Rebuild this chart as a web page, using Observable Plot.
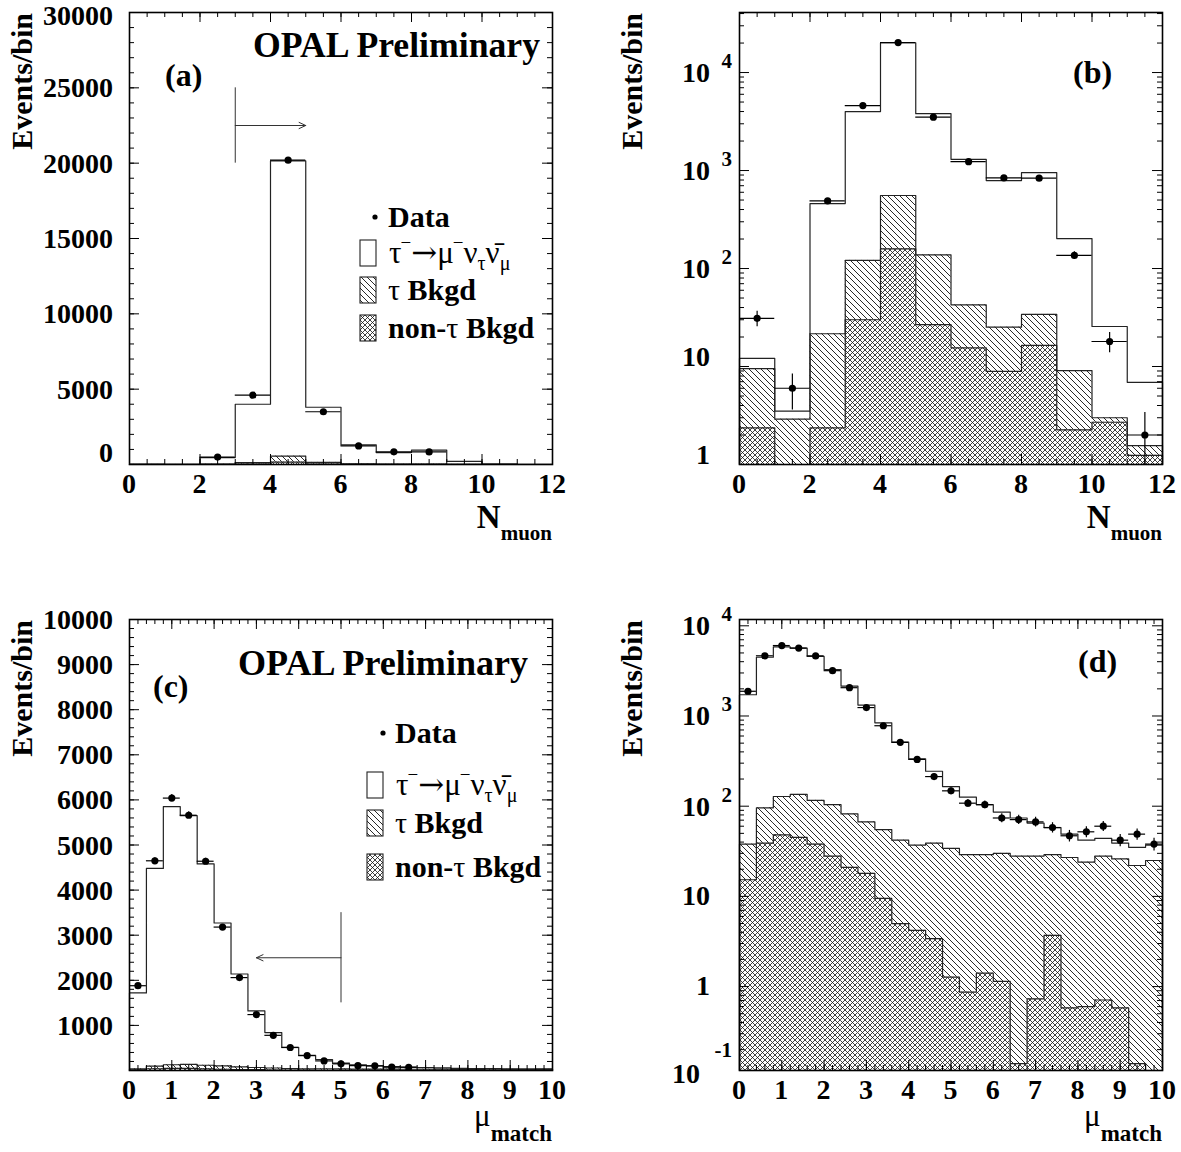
<!DOCTYPE html>
<html><head><meta charset="utf-8">
<script src="https://cdn.jsdelivr.net/npm/d3@7"></script>
<script src="https://cdn.jsdelivr.net/npm/@observablehq/plot@0.6"></script>
<style>
body{margin:0;background:#fff;}
#chart{position:relative;width:1181px;height:1152px;background:#fff;overflow:hidden;}
#chart svg{position:absolute;overflow:visible;}
</style></head><body><div id="chart"></div>
<script>
// ---------------- DATA ----------------
// N_muon distribution (bins of width 1)
const nmuonEdges   = [0,1,2,3,4,5,6,7,8,9,10,11,12];
const nmuonData    = [31, 6, 490, 4600, 20200, 3500, 1230, 840, 835, 136, 18, 2];
const nmuonDataErr = [5.6, 2.4, 22, 68, 142, 59, 35, 29, 29, 12, 4.2, 1.4];
const nmuonMC      = [12.1, 3.5, 460, 4000, 20150, 3800, 1300, 790, 950, 202, 25.6, 6.9];   // signal + all bkgd (stacked top)
const nmuonBkgd    = [9.5, 2.9, 21.6, 121, 556, 138, 42.6, 25.2, 34, 9.1, 3.0, 1.56];      // tau bkgd + non-tau bkgd (stacked top)
const nmuonNonTau  = [2.37, 0, 2.37, 30, 159, 26.8, 15.5, 8.9, 16.4, 2.26, 2.7, 1.24];     // non-tau bkgd

// mu_match distribution (bins of width 0.4)
const mumatchEdges   = [0,0.4,0.8,1.2,1.6,2,2.4,2.8,3.2,3.6,4,4.4,4.8,5.2,5.6,6,6.4,6.8,7.2,7.6,8,8.4,8.8,9.2,9.6,10];
const mumatchData    = [1880, 4650, 6040, 5660, 4640, 3180, 2060, 1240, 780, 510, 330, 213, 148, 108, 104, 74, 71, 67, 58, 47, 52, 60, 42, 49, 38];
const mumatchDataErr = [43, 68, 78, 75, 68, 56, 45, 35, 28, 22.6, 18, 14.6, 12.2, 10.4, 10.2, 8.6, 8.4, 8.2, 7.6, 6.9, 7.2, 7.7, 6.5, 7, 6.2];
const mumatchMC      = [1720, 4480, 5850, 5650, 4580, 3270, 2140, 1320, 840, 515, 335, 244, 165, 126, 104, 86, 74, 65, 58, 49, 42, 44, 39, 35, 37];
const mumatchBkgd    = [38, 96, 128, 135, 116, 104, 82, 67, 55, 42, 37, 39, 34, 29, 29, 30, 28, 28, 29, 27, 24, 28, 26, 22, 25];
const mumatchNonTau  = [15.3, 39, 48, 45, 38, 28, 21, 18, 9.5, 5.0, 4.2, 3.4, 1.27, 0.87, 1.41, 1.14, 0.14, 0.73, 3.7, 0.58, 0.60, 0.71, 0.58, 0.14, 0];

// selection cuts (arrows)
const cutNmuon   = {x: 3, yLow: 20000, yHigh: 25000, yArrow: 22500, to: 5};
const cutMumatch = {x: 5, yLow: 1500,  yHigh: 3500,  yArrow: 2500,  to: 3};

// tick label values
const linTicksA = [0,5000,10000,15000,20000,25000,30000];
const linTicksC = [1000,2000,3000,4000,5000,6000,7000,8000,9000,10000];
const xTicksN   = [0,2,4,6,8,10,12];
const xTicksM   = [0,1,2,3,4,5,6,7,8,9,10];
const logDecades = [1,10,100,1000,10000];

// ---------------- DRAWING ----------------
const FONT = '"Liberation Serif","Times New Roman",Times,serif';
const chart = document.getElementById("chart");

function makeBins(edges, data, err, mc, bkgd, nontau) {
  return data.map((d, i) => ({x1: edges[i], x2: edges[i+1], xc: (edges[i]+edges[i+1])/2,
    data: d, err: err[i], mc: mc[i], bkgd: bkgd[i], nontau: nontau[i]}));
}
function stepPoints(edges, vals, base) {
  const pts = [{x: edges[0], y: base}];
  vals.forEach((v, i) => {
    const y = Math.max(v, base);
    pts.push({x: edges[i], y}); pts.push({x: edges[i+1], y});
  });
  pts.push({x: edges[edges.length-1], y: base});
  return pts;
}
function logMinors(domain) {
  const out = [];
  for (let e = -1; e <= 4; e++) for (let k = 2; k <= 9; k++) {
    const v = k * Math.pow(10, e);
    if (v >= domain[0] && v <= domain[1]) out.push(v);
  }
  return out;
}
function addText(g, x, y, parts, attrs = {}) {
  const t = g.append("text").attr("x", x).attr("y", y).attr("font-family", FONT)
    .attr("fill", "black").attr("text-anchor", "start");
  for (const [k, v] of Object.entries(attrs)) t.attr(k, v);
  if (typeof parts === "string") t.text(parts);
  else parts.forEach(p => {
    const s = t.append("tspan").text(p.t);
    if (p.dy) s.attr("dy", p.dy);
    if (p.dx) s.attr("dx", p.dx);
    if (p.size) s.attr("font-size", p.size);
    if (p.font) s.attr("font-family", p.font);
    s.attr("font-weight", p.w || "normal");
  });
  return t;
}

function buildPanel(p) {
  const fw = p.width - p.m.l - p.m.r, fh = p.height - p.m.t - p.m.b;
  const base = p.yDomain[0];
  const cl = v => Math.max(v, base);
  const hatchId = "hatch-" + p.key, crossId = "cross-" + p.key;
  const bins = p.bins;
  const ymax = p.yDomain[1];
  const pts = p.log ? bins : bins.filter(d => d.data / ymax > 0.007);
  const tickMarks = (vals, len, dim) => dim === "x" ? [
      Plot.tickX(vals, {x: d => d, insetTop: fh - len, stroke: "black", strokeWidth: 1}),
      Plot.tickX(vals, {x: d => d, insetBottom: fh - len, stroke: "black", strokeWidth: 1})
    ] : [
      Plot.tickY(vals, {y: d => d, insetRight: fw - len, stroke: "black", strokeWidth: 1}),
      Plot.tickY(vals, {y: d => d, insetLeft: fw - len, stroke: "black", strokeWidth: 1})
    ];
  const marks = [
    Plot.rect(bins, {x1: "x1", x2: "x2", y1: d => cl(d.nontau), y2: d => cl(d.bkgd), fill: `url(#${hatchId})`}),
    Plot.rect(bins, {x1: "x1", x2: "x2", y1: () => base, y2: d => cl(d.nontau), fill: `url(#${crossId})`}),
    Plot.line(stepPoints(p.edges, bins.map(d => d.nontau), base), {x: "x", y: "y", stroke: "#222", strokeWidth: 1.2}),
    Plot.line(stepPoints(p.edges, bins.map(d => d.bkgd), base), {x: "x", y: "y", stroke: "#222", strokeWidth: 1.2}),
    Plot.line(stepPoints(p.edges, bins.map(d => d.mc), base), {x: "x", y: "y", stroke: "#222", strokeWidth: 1.2}),
    Plot.ruleY(pts, {y: "data", x1: "x1", x2: "x2", stroke: "black", strokeWidth: 1.2}),
    Plot.ruleX(pts, {x: "xc", y1: d => cl(d.data - d.err), y2: d => d.data + d.err, stroke: "black", strokeWidth: 1.2}),
    Plot.dot(pts, {x: "xc", y: "data", r: 3.6, fill: "black", stroke: "none"}),
    ...tickMarks(p.xMinor, 5, "x"), ...tickMarks(p.xMajor, 10, "x"),
    ...tickMarks(p.yMinor, 5, "y"), ...tickMarks(p.yMajor, 10, "y"),
  ];
  if (p.cut) {
    marks.push(Plot.ruleX([p.cut], {x: "x", y1: "yLow", y2: "yHigh", stroke: "#333", strokeWidth: 1}));
    marks.push(Plot.arrow([p.cut], {x1: "x", y1: "yArrow", x2: "to", y2: "yArrow", stroke: "#333", strokeWidth: 1, headLength: 11, headAngle: 50}));
  }
  marks.push(Plot.frame({stroke: "black", strokeWidth: 1.6}));

  const svg = Plot.plot({
    width: p.width, height: p.height,
    marginLeft: p.m.l, marginRight: p.m.r, marginTop: p.m.t, marginBottom: p.m.b,
    x: {domain: p.xDomain, axis: null},
    y: {type: p.log ? "log" : "linear", domain: p.yDomain, axis: null},
    style: {fontFamily: FONT, background: "white"},
    marks
  });
  svg.style.left = p.left + "px";
  svg.style.top = p.top + "px";
  chart.appendChild(svg);

  const s = d3.select(svg);
  const defs = s.insert("defs", ":first-child");
  defs.append("pattern").attr("id", hatchId).attr("patternUnits", "userSpaceOnUse")
    .attr("width", 6).attr("height", 6)
    .append("path").attr("d", "M-1,-1L7,7M-1,5L1,7M5,-1L7,1")
    .attr("stroke", "#111").attr("stroke-width", 0.9).attr("fill", "none");
  defs.append("pattern").attr("id", crossId).attr("patternUnits", "userSpaceOnUse")
    .attr("width", 5).attr("height", 5)
    .append("path").attr("d", "M-1,-1L6,6M-1,4L1,6M4,-1L6,1M-1,6L6,-1M-1,1L1,-1M4,6L6,4")
    .attr("stroke", "#111").attr("stroke-width", 0.8).attr("fill", "none");

  const sx = v => svg.scale("x").apply(v);
  const sy = v => svg.scale("y").apply(v);
  const g = s.append("g").attr("text-anchor", "start");
  const fx0 = p.m.l, fx1 = p.width - p.m.r, fy0 = p.m.t, fy1 = p.height - p.m.b;

  // x tick labels
  p.xLabels.forEach(v => addText(g, sx(v), fy1 + 29, String(v),
    {"text-anchor": "middle", "font-size": 28, "font-weight": "bold"}));
  // y tick labels
  if (!p.log) {
    p.yLabels.forEach(v => {
      let ty = sy(v) + 10;
      if (v === base) ty = sy(v) - 2;
      if (v === ymax && p.top === 0) ty = sy(v) + 13;
      addText(g, fx0 - 16, ty, String(v), {"text-anchor": "end", "font-size": 28, "font-weight": "bold"});
    });
  } else {
    p.yLabels.forEach(v => {
      const ty = sy(v);
      if (v === 1 || v === 10) {
        addText(g, fx0 - 29, ty + p.plainDy, String(v), {"text-anchor": "end", "font-size": 28, "font-weight": "bold"});
      } else {
        const e = Math.round(Math.log10(v));
        addText(g, fx0 - 29, ty + 10, "10", {"text-anchor": "end", "font-size": 28, "font-weight": "bold"});
        addText(g, fx0 - 7, ty - 4, String(e), {"text-anchor": "end", "font-size": 21, "font-weight": "bold"});
      }
    });
    if (p.minusOne) {
      addText(g, fx0 - 39, fy1 + 13, "10", {"text-anchor": "end", "font-size": 28, "font-weight": "bold"});
      addText(g, fx0 - 7, fy1 - 13, "-1", {"text-anchor": "end", "font-size": 21, "font-weight": "bold"});
    }
  }
  // y title
  addText(g, 0, 0, "Events/bin", {"text-anchor": "end", "font-size": 30, "font-weight": "bold",
    transform: `translate(${p.yTitleX},${fy0 + 1}) rotate(-90)`});
  // x title
  addText(g, fx1, p.xTitleY, p.xTitle, {"text-anchor": "end"});
  // panel letter
  addText(g, p.letter.x - p.left, p.letter.y - p.top, p.letter.t, {"font-size": 32, "font-weight": "bold"});
  if (p.opal) addText(g, p.opal.x - p.left, p.opal.y - p.top, "OPAL Preliminary",
    {"font-size": 35, "font-weight": "bold", "textLength": p.opal.len, "lengthAdjust": "spacingAndGlyphs"});
  if (p.legend) {
    const L = p.legend, ox = p.left, oy = p.top;
    g.append("circle").attr("cx", L.dotX - ox).attr("cy", L.rows[0] - oy).attr("r", 2.6).attr("fill", "black");
    addText(g, L.textX - ox, L.rows[0] + 10 - oy, "Data", {"font-size": 30, "font-weight": "bold"});
    const fills = ["white", `url(#${hatchId})`, `url(#${crossId})`];
    fills.forEach((f, i) => g.append("rect").attr("x", L.boxX - ox).attr("y", L.rows[i+1] - 13 - oy)
      .attr("width", 16).attr("height", 26).attr("fill", f).attr("stroke", "#222").attr("stroke-width", 1.1));
    addText(g, L.textX - ox + 1, L.rows[1] + 10 - oy, [
      {t: "τ", size: 31}, {t: "−", size: 19, dy: -14, dx: -1}, {t: "→", size: 31, dy: 14, font: '"DejaVu Serif","Liberation Serif",serif'},
      {t: "μ", size: 31}, {t: "−", size: 19, dy: -14, dx: -1}, {t: "ν", size: 31, dy: 14},
      {t: "τ", size: 20, dy: 7}, {t: "ν̄", size: 31, dy: -7}, {t: "μ", size: 20, dy: 7}
    ]);
    addText(g, L.textX - ox, L.rows[2] + 10 - oy, [{t: "τ ", size: 30}, {t: "Bkgd", size: 30, w: "bold"}]);
    addText(g, L.textX - ox, L.rows[3] + 10 - oy, [{t: "non-", size: 30, w: "bold"}, {t: "τ", size: 30}, {t: " Bkgd", size: 30, w: "bold"}]);
  }
}

const nBins = makeBins(nmuonEdges, nmuonData, nmuonDataErr, nmuonMC, nmuonBkgd, nmuonNonTau);
const mBins = makeBins(mumatchEdges, mumatchData, mumatchDataErr, mumatchMC, mumatchBkgd, mumatchNonTau);

const NmuonTitle = [{t: "N", size: 33, w: "bold"}, {t: "muon", size: 21, w: "bold", dy: 12}];
const MumatchTitle = [{t: "μ", size: 31}, {t: "match", size: 23, w: "bold", dy: 15}];
const nX = {xDomain: [0,12], edges: nmuonEdges, bins: nBins, xMajor: d3.range(0, 12.001, 2), xMinor: d3.range(0, 12.001, 0.5), xLabels: xTicksN, xTitle: NmuonTitle, xTitleY: 528};
const mX = {xDomain: [0,10], edges: mumatchEdges, bins: mBins, xMajor: d3.range(0, 10.001, 1), xMinor: d3.range(0, 10.001, 0.2).map(v => +v.toFixed(2)), xLabels: xTicksM, xTitle: MumatchTitle, xTitleY: 1126 - 580};

const dB = [1, 41000], dD = [0.1174, 11745];
buildPanel({key: "a", left: 0, top: 0, width: 590, height: 570, m: {l: 129, r: 38, t: 12, b: 106},
  log: false, yDomain: [0, 30000], yMajor: d3.range(0, 30001, 5000), yMinor: d3.range(0, 30001, 1000), yLabels: linTicksA,
  ...nX, yTitleX: 32, cut: cutNmuon, letter: {t: "(a)", x: 165, y: 86}, opal: {x: 253, y: 57, len: 287},
  legend: {dotX: 375, textX: 388, boxX: 360, rows: [217, 253, 290, 328]}});
buildPanel({key: "b", left: 590, top: 0, width: 591, height: 570, m: {l: 149, r: 19, t: 12, b: 106},
  log: true, yDomain: dB, yMajor: logDecades, yMinor: logMinors(dB), yLabels: logDecades, plainDy: 0,
  ...nX, yTitleX: 52, letter: {t: "(b)", x: 1073, y: 83}});
buildPanel({key: "c", left: 0, top: 580, width: 590, height: 572, m: {l: 129, r: 38, t: 39, b: 82},
  log: false, yDomain: [0, 10000], yMajor: d3.range(0, 10001, 1000), yMinor: d3.range(0, 10001, 200), yLabels: linTicksC,
  ...mX, yTitleX: 32, cut: cutMumatch, letter: {t: "(c)", x: 153, y: 697}, opal: {x: 238, y: 675, len: 290},
  legend: {dotX: 383, textX: 395, boxX: 367, rows: [733, 785, 823, 867]}});
buildPanel({key: "d", left: 590, top: 580, width: 591, height: 572, m: {l: 149, r: 19, t: 39, b: 82},
  log: true, yDomain: dD, yMajor: logDecades, yMinor: logMinors(dD), yLabels: logDecades, plainDy: 9, minusOne: true,
  ...mX, yTitleX: 52, letter: {t: "(d)", x: 1078, y: 672}});
</script></body></html>
